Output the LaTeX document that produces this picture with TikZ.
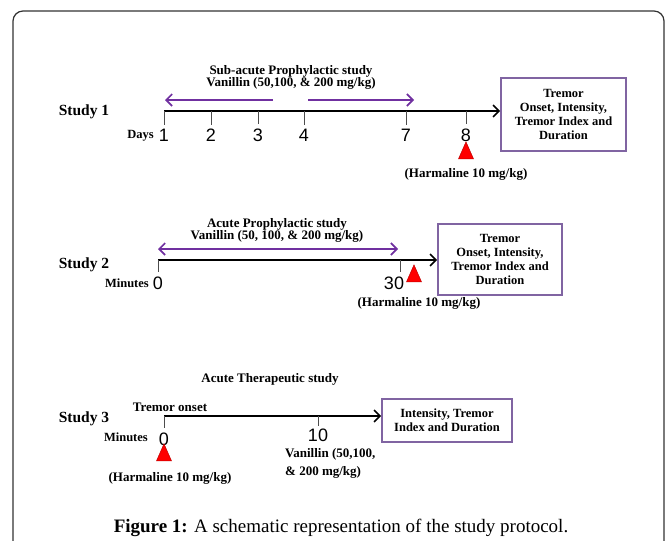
\documentclass[tikz,border=0pt]{standalone}
\usepackage{fontspec}
\setmainfont{Liberation Serif}
\newfontfamily\numfont{Liberation Sans}
\usetikzlibrary{arrows.meta,positioning,shapes.geometric}
\definecolor{vanpurple}{RGB}{112,48,160}
\definecolor{boxpurple}{RGB}{128,100,162}
\definecolor{framegray}{RGB}{50,50,50}

\begin{document}
\begin{tikzpicture}[x=1pt,y=-1pt,
    lbl/.style={font=\bfseries\fontsize{13}{14}\selectfont,inner sep=0pt},
    small/.style={font=\bfseries\fontsize{12.5}{13}\selectfont,inner sep=0pt},
    study/.style={font=\bfseries\fontsize{15.5}{16}\selectfont,inner sep=0pt},
    num/.style={font=\numfont\fontsize{18}{18}\selectfont,inner sep=0pt},
    outbox/.style={draw=boxpurple,line width=1.6pt,align=center,
      font=\bfseries\fontsize{12.5}{14.3}\selectfont},
    barb/.tip={Straight Barb[length=6pt,width=12pt,line width=1.6pt]},
    timeline/.style={line width=2.2pt,-barb},
    dose/.style={vanpurple,line width=2.2pt,-barb},
    tick/.style={line width=0.9pt,black!70},
    harm/.style={isosceles triangle,isosceles triangle stretches,shape border rotate=90,
      minimum width=15pt,minimum height=17pt,inner sep=0pt,fill=red,draw=red!75!black,
      line width=0.5pt}]

  \useasboundingbox (0,0) rectangle (670,541);
  \draw[framegray,line width=1.2pt,rounded corners=10pt]
    (13,545) -- (13,11) -- (664,11) -- (664,545);

  % study 1
  \node[study] (st1) at (84,112) {Study 1};
  \node[lbl] (t1a) at (291,71) {Sub-acute Prophylactic study};
  \node[lbl] (t1b) [below=0pt of t1a] {Vanillin (50,100, \& 200 mg/kg)};
  \node[outbox,minimum width=125pt,minimum height=73pt] (box1) at (563.5,114.5)
    {Tremor\\Onset, Intensity,\\Tremor Index and\\Duration};
  \coordinate (s1start) at (164,111);
  \draw[timeline] (s1start) -- (s1start -| box1.west);
  \foreach \d/\x in {1/164,2/211,3/258,4/304,7/406,8/466}{
    \coordinate (s1t\d) at (\x,111);
    \node[num] (s1d\d) at (\x,135) {\d};
    \draw[tick] (s1t\d) -- ([yshift=4pt]s1d\d.north);
  }
  \node[small,anchor=east] (days) at (154,136) {Days};
  \coordinate (v1a) at (273,100);
  \coordinate (v1b) at (165,100);
  \coordinate (v1c) at (308,100);
  \coordinate (v1d) at (414,100);
  \draw[dose] (v1a) -- (v1b);
  \draw[dose] (v1c) -- (v1d);
  \node[harm] (h1) at (466,154) {};
  \node[lbl] (h1l) at (466,174) {(Harmaline 10 mg/kg)};

  % study 2
  \node[study] (st2) at (84,265) {Study 2};
  \node[lbl] (t2a) at (277,224) {Acute Prophylactic study};
  \node[lbl] (t2b) [below=0pt of t2a] {Vanillin (50, 100, \& 200 mg/kg)};
  \node[outbox,minimum width=124pt,minimum height=71pt] (box2) at (500,259.5)
    {Tremor\\Onset, Intensity,\\Tremor Index and\\Duration};
  \coordinate (s2start) at (158,260);
  \draw[timeline] (s2start) -- (s2start -| box2.west);
  \node[num] (s2d0) at (158,283) {0};
  \node[num] (s2d30) at (394,283) {30};
  \coordinate (s2t30) at (400,260);
  \draw[tick] (s2start) -- ([yshift=4pt]s2d0.north);
  \draw[tick] (s2t30) -- ([yshift=4pt]s2t30 |- s2d30.north);
  \node[small,anchor=east] (min2) at (149,283) {Minutes};
  \coordinate (v2a) at (158,249);
  \coordinate (v2b) at (398,249);
  \draw[dose,barb-barb] (v2a) -- (v2b);
  \node[harm] (h2) at (414,277) {};
  \node[lbl] (h2l) at (419,303) {(Harmaline 10 mg/kg)};

  % study 3
  \node[study] (st3) at (84,419) {Study 3};
  \node[lbl] (t3a) at (270,379) {Acute Therapeutic study};
  \node[lbl] (onset) at (170,407) {Tremor onset};
  \node[outbox,minimum width=130pt,minimum height=43pt] (box3) at (447,420.5)
    {Intensity, Tremor\\Index and Duration};
  \coordinate (s3start) at (164,416);
  \draw[timeline] (s3start) -- (s3start -| box3.west);
  \node[num] (s3d0) at (164,439) {0};
  \node[num] (s3d10) at (318,435) {10};
  \coordinate (s3t10) at (318,416);
  \draw[tick] (s3start) -- ([yshift=4pt]s3d0.north);
  \draw[tick] (s3t10) -- ([yshift=2pt]s3d10.north);
  \node[small,anchor=east] (min3) at (148,437) {Minutes};
  \node[harm] (h3) at (164,456) {};
  \node[lbl] (h3l) at (170,478) {(Harmaline 10 mg/kg)};
  \node[lbl,align=left,anchor=west,font=\bfseries\fontsize{13}{18}\selectfont]
    (v3) at (285,463) {Vanillin (50,100,\\\& 200 mg/kg)};

  % caption
  \node[font=\fontsize{19}{20}\selectfont] (cap) at (341,528)
    {\textbf{Figure 1:} A schematic representation of the study protocol.};
\end{tikzpicture}
\end{document}
